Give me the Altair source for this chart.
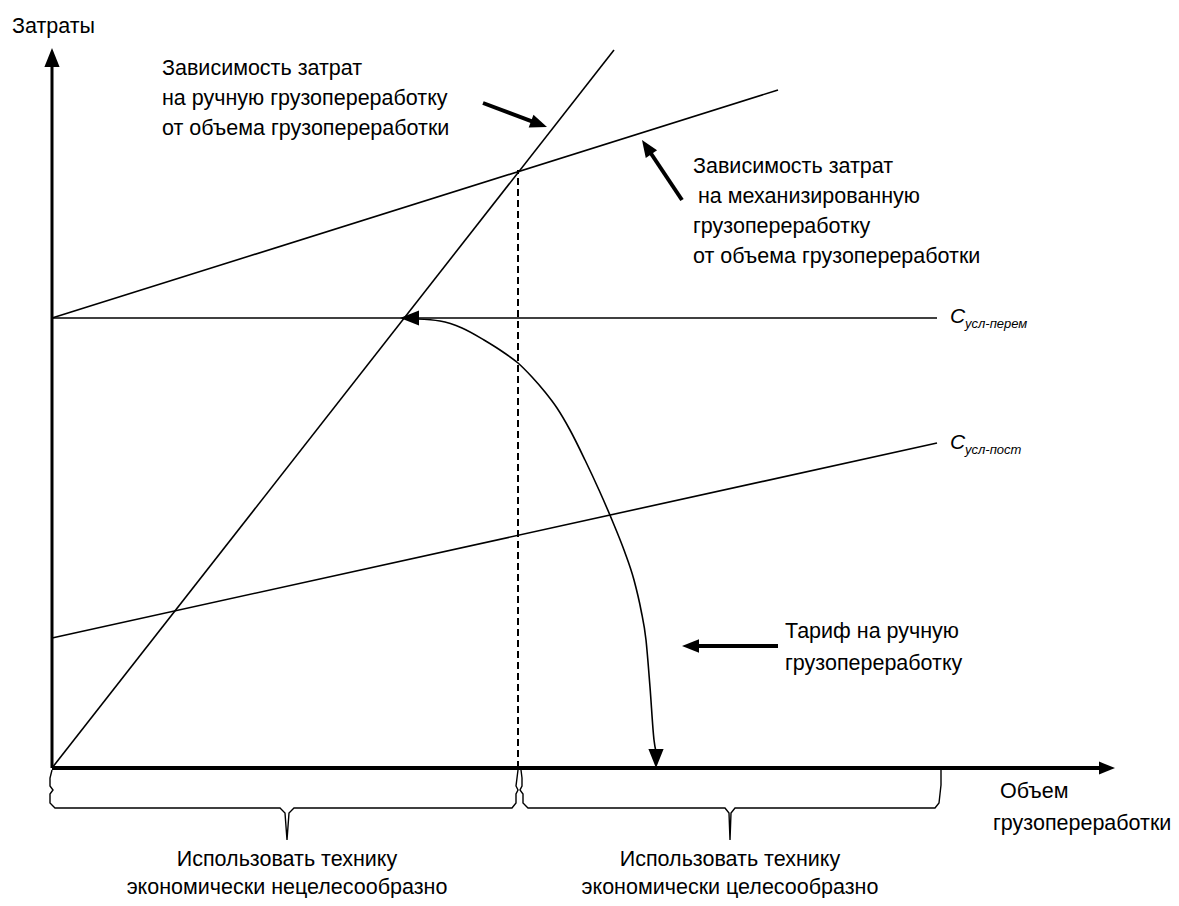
import math
import altair as alt
import pandas as pd

FONT = "Liberation Sans, Arial, Helvetica, sans-serif"

# ---- Diagram units: x = volume of cargo handling, y = costs (origin at axes crossing)
# Straight cost lines: manual handling, mechanized handling, C var, C fixed
line_name = ["manual", "mechanized", "c_var", "c_fixed"]
line_x0 = [0, 0, 0, 0]
line_y0 = [0, 450, 450, 130]
line_x1 = [562, 726, 885, 885]
line_y1 = [718, 678, 450, 325]

# Axes (shaft ends) and their widths
axis_name = ["cost_axis", "volume_axis"]
axis_x0 = [0, 0]
axis_y0 = [0, 0]
axis_x1 = [0, 1050]
axis_y1 = [706, 0]
axis_w = [3, 4]

# Break-even volume (dashed)
break_x = [466, 466]
break_y = [0, 598]

# Tariff curve (from C var down to the volume axis)
curve_x = [365, 388, 410, 432, 451, 466, 480, 493, 505, 518, 533, 547, 560, 572, 582, 589, 594, 598, 602, 604]
curve_y = [449, 447, 440, 428, 416, 405, 391, 376, 360, 338, 308, 278, 248, 218, 188, 158, 128, 81, 28, 16]

# Pointer arrows: tail -> tip
ptr_name = ["manual_ptr", "mech_ptr", "tariff_ptr"]
ptr_tail_x = [431, 630, 726]
ptr_tail_y = [665, 568, 122]
ptr_tip_x = [495, 590, 630]
ptr_tip_y = [641, 628, 122]

# Arrow heads: tip, pointing direction (dx, dy), length
head_x = [0, 1063, 495, 590, 630, 348, 604]
head_y = [720, 0, 641, 628, 122, 450, 0]
head_dx = [0, 1, 64, -40, -1, -1, 0]
head_dy = [1, 0, -24, 60, 0, 0, -1]
head_len = [19, 16, 17, 17, 17, 19, 19]

# Braces under the volume axis
brace1_x = [0, -2, -2, 1, -2, -2, 3, 228, 233, 235, 237, 242, 460, 464, 464, 466, 464, 465, 466]
brace1_y = [-2, -10, -18, -22, -26, -35, -40, -40, -45, -72, -45, -40, -40, -35, -26, -22, -18, -10, -2]
brace2_x = [469, 470, 470, 468, 471, 471, 476, 673, 677, 678, 679, 683, 883, 887, 888, 889, 889, 889]
brace2_y = [-2, -10, -18, -22, -26, -35, -40, -40, -45, -72, -45, -40, -40, -35, -26, -17, -8, -2]

# Texts
txt = ["Затраты",
       "Зависимость затрат", "на ручную грузопереработку", "от объема грузопереработки",
       "Зависимость затрат", "на механизированную", "грузопереработку", "от объема грузопереработки",
       "Тариф на ручную", "грузопереработку",
       "Объем", "грузопереработки",
       "Использовать технику", "экономически нецелесообразно",
       "Использовать технику", "экономически целесообразно"]
txt_x = [-40, 110, 110, 110, 641, 646, 641, 641, 733, 733, 948, 941, 235, 235, 678, 678]
txt_y = [735, 693, 663, 633, 595, 565, 535, 505, 130, 98, -30, -62, -98, -126, -98, -126]
txt_align = ["left"] * 12 + ["center"] * 4

c_txt = ["C", "C"]
c_x = [898, 898]
c_y = [445, 319]
sub_txt = ["усл-перем", "усл-пост"]
sub_x = [913, 913]
sub_y = [440, 314]

# ---------------- build tables ----------------
X = alt.Scale(domain=[-44, 1119], nice=False, zero=False)
Y = alt.Scale(domain=[-130, 760], nice=False, zero=False)


def xe(f):
    return alt.X(f, type="quantitative", scale=X, axis=None)


def ye(f):
    return alt.Y(f, type="quantitative", scale=Y, axis=None)


lines_df = pd.DataFrame(dict(name=line_name, x=line_x0, y=line_y0, x2=line_x1, y2=line_y1))
axes_df = pd.DataFrame(dict(name=axis_name, x=axis_x0, y=axis_y0, x2=axis_x1, y2=axis_y1, w=axis_w))
dash_df = pd.DataFrame(dict(x=[break_x[0]], y=[break_y[0]], x2=[break_x[1]], y2=[break_y[1]]))

# shafts end a little before the tip so the head covers them
shaft_rows = []
for n, tx, ty, px, py in zip(ptr_name, ptr_tail_x, ptr_tail_y, ptr_tip_x, ptr_tip_y):
    d = math.hypot(px - tx, py - ty)
    ux, uy = (px - tx) / d, (py - ty) / d
    shaft_rows.append(dict(name=n, x=tx, y=ty, x2=px - 9 * ux, y2=py - 9 * uy))
shaft_df = pd.DataFrame(shaft_rows)

head_rows = []
for hx, hy, dx, dy, L in zip(head_x, head_y, head_dx, head_dy, head_len):
    ang = math.degrees(math.atan2(dx, dy)) % 360
    head_rows.append(dict(x=hx, y=hy, angle=ang, size=(2 * L) ** 2))
head_df = pd.DataFrame(head_rows)

curve_df = pd.DataFrame(dict(x=curve_x, y=curve_y, o=list(range(len(curve_x)))))
brace_df = pd.concat([
    pd.DataFrame(dict(b="left", x=brace1_x, y=brace1_y, o=list(range(len(brace1_x))))),
    pd.DataFrame(dict(b="right", x=brace2_x, y=brace2_y, o=list(range(len(brace2_x))))),
])
text_df = pd.DataFrame(dict(t=txt, x=txt_x, y=txt_y, a=txt_align))
c_df = pd.DataFrame(dict(t=c_txt, x=c_x, y=c_y))
sub_df = pd.DataFrame(dict(t=sub_txt, x=sub_x, y=sub_y))

# ---------------- layers ----------------
cost_lines = alt.Chart(lines_df).mark_rule(color="black", strokeWidth=1.6).encode(
    x=xe("x"), y=ye("y"), x2="x2", y2="y2")

axes = alt.Chart(axes_df).mark_rule(color="black").encode(
    x=xe("x"), y=ye("y"), x2="x2", y2="y2",
    strokeWidth=alt.StrokeWidth("w:Q", scale=None))

dashed = alt.Chart(dash_df).mark_rule(color="black", strokeWidth=2, strokeDash=[7, 4]).encode(
    x=xe("x"), y=ye("y"), x2="x2", y2="y2")

shafts = alt.Chart(shaft_df).mark_rule(color="black", strokeWidth=4).encode(
    x=xe("x"), y=ye("y"), x2="x2", y2="y2")

curve = alt.Chart(curve_df).mark_line(color="black", strokeWidth=1.6, interpolate="monotone").encode(
    x=xe("x"), y=ye("y"), order="o:Q")

braces = alt.Chart(brace_df).mark_line(color="black", strokeWidth=1.4).encode(
    x=xe("x"), y=ye("y"), order="o:Q", detail="b:N")

heads = alt.Chart(head_df).mark_point(
    shape="M0,0L-0.4,1L0.4,1Z", filled=True, color="black", opacity=1, strokeWidth=0
).encode(
    x=xe("x"), y=ye("y"),
    angle=alt.Angle("angle:Q", scale=None),
    size=alt.Size("size:Q", scale=None))

texts_left = alt.Chart(text_df[text_df.a == "left"]).mark_text(
    align="left", baseline="alphabetic", font=FONT, fontSize=21.5, color="black").encode(
    x=xe("x"), y=ye("y"), text="t:N")
texts_center = alt.Chart(text_df[text_df.a == "center"]).mark_text(
    align="center", baseline="alphabetic", font=FONT, fontSize=21.5, color="black").encode(
    x=xe("x"), y=ye("y"), text="t:N")

c_main = alt.Chart(c_df).mark_text(
    align="left", baseline="alphabetic", font=FONT, fontSize=21, fontStyle="italic", color="black").encode(
    x=xe("x"), y=ye("y"), text="t:N")
c_sub = alt.Chart(sub_df).mark_text(
    align="left", baseline="alphabetic", font=FONT, fontSize=13, fontStyle="italic", color="black").encode(
    x=xe("x"), y=ye("y"), text="t:N")

chart = alt.layer(
    cost_lines, dashed, curve, braces, axes, shafts, heads,
    texts_left, texts_center, c_main, c_sub
).properties(
    width=1163, height=890, padding=0,
    autosize=alt.AutoSizeParams(type="none"),
    background="white",
).configure_view(stroke=None)

chart.save("out.html", embed_options={"renderer": "svg", "actions": False})
